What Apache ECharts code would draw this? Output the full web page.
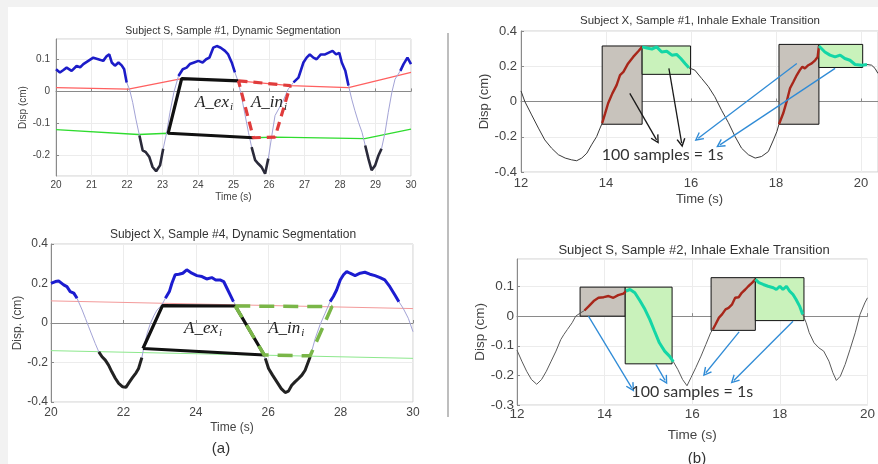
<!DOCTYPE html>
<html>
<head>
<meta charset="utf-8">
<script src="https://cdn.jsdelivr.net/npm/echarts@6/dist/echarts.min.js"></script>
<style>
  html, body { margin: 0; padding: 0; background: #fff; }
  #chart { width: 878px; height: 464px; }
</style>
</head>
<body>
<div id="chart"></div>
<script>
// 左上：Subject S, Sample #1
var p1Time = [20.00, 20.11, 20.20, 20.30, 20.44, 20.58, 20.68, 20.77, 20.91, 21.05, 21.19, 21.33, 21.43, 21.50, 21.57, 21.66, 21.76, 21.85, 21.92, 21.99,
  22.07, 22.16, 22.25, 22.35, 22.44, 22.53, 22.63, 22.72, 22.82, 22.93, 23.02, 23.12, 23.21, 23.32, 23.45, 23.57, 23.68, 23.77, 23.89, 24.01,
  24.13, 24.23, 24.32, 24.43, 24.53, 24.64, 24.76, 24.85, 24.95, 25.04, 25.14, 25.23, 25.32, 25.42, 25.51, 25.61, 25.70, 25.79, 25.89, 25.98,
  26.08, 26.17, 26.40, 26.54, 26.69, 26.83, 26.97, 27.06, 27.15, 27.25, 27.34, 27.46, 27.58, 27.67, 27.79, 27.89, 27.98, 28.05, 28.15, 28.24,
  28.33, 28.42, 28.52, 28.62, 28.71, 28.80, 28.89, 28.99, 29.08, 29.17, 29.27, 29.36, 29.46, 29.55, 29.70, 29.79, 29.90, 30.00];
var p1Disp = [0.069, 0.059, 0.066, 0.074, 0.064, 0.079, 0.075, 0.085, 0.095, 0.105, 0.100, 0.095, 0.110, 0.115, 0.090, 0.080, 0.090, 0.081, 0.069, 0.028,
  0.007, -0.034, -0.086, -0.137, -0.183, -0.189, -0.204, -0.235, -0.248, -0.230, -0.178, -0.127, -0.065, -0.003, 0.048, 0.069, 0.074, 0.085, 0.090, 0.095,
  0.090, 0.100, 0.105, 0.136, 0.141, 0.136, 0.126, 0.115, 0.090, 0.059, 0.028, -0.019, -0.070, -0.127, -0.173, -0.214, -0.225, -0.235, -0.256, -0.209,
  -0.137, -0.075, -0.029, 0.007, 0.028, 0.043, 0.090, 0.105, 0.115, 0.105, 0.100, 0.115, 0.115, 0.120, 0.126, 0.115, 0.120, 0.090, 0.064, 0.018,
  -0.024, -0.060, -0.096, -0.127, -0.168, -0.209, -0.245, -0.230, -0.200, -0.178, -0.127, -0.065, -0.003, 0.038, 0.064, 0.085, 0.105, 0.085];
var p1RedT = [20, 22.04, 23.54, 25.14, 26.6, 28.24, 30];
var p1RedV = [0.012, 0.007, 0.040, 0.033, 0.018, 0.012, 0.059];
var p1GreenT = [20, 22.32, 23.16, 25.56, 26.17, 28.7, 30];
var p1GreenV = [-0.119, -0.134, -0.130, -0.144, -0.142, -0.147, -0.117];
var p1Ex = [[25.56, -0.144], [23.16, -0.130], [23.54, 0.040], [25.14, 0.033]];
var p1In = [[25.14, 0.033], [26.60, 0.018], [26.17, -0.142], [25.56, -0.144], [25.14, 0.033]];
var p1Labels = [[24.45, -0.034], [26.0, -0.034]];

// 左下：Subject X, Sample #4
var p2Time = [20.00, 20.12, 20.21, 20.35, 20.44, 20.53, 20.63, 20.72, 20.76, 20.86, 20.95, 21.04, 21.13, 21.22, 21.32, 21.41, 21.50, 21.59, 21.68, 21.78,
  21.87, 21.98, 22.07, 22.16, 22.25, 22.35, 22.42, 22.51, 22.58, 22.66, 22.75, 22.85, 22.93, 23.06, 23.16, 23.27, 23.34, 23.43, 23.53, 23.64,
  23.75, 23.89, 24.03, 24.17, 24.30, 24.44, 24.55, 24.67, 24.77, 24.86, 24.95, 25.04, 25.13, 25.27, 25.41, 25.55, 25.69, 25.82, 25.92, 26.01,
  26.12, 26.24, 26.36, 26.47, 26.56, 26.65, 26.74, 26.84, 26.93, 27.02, 27.16, 27.30, 27.43, 27.57, 27.71, 27.80, 27.89, 27.99, 28.08, 28.17,
  28.26, 28.40, 28.54, 28.67, 28.81, 28.95, 29.09, 29.22, 29.36, 29.50, 29.61, 29.73, 29.87, 30.00];
var p2Disp = [0.201, 0.210, 0.213, 0.193, 0.184, 0.159, 0.151, 0.125, 0.108, 0.066, 0.024, -0.019, -0.061, -0.103, -0.146, -0.171, -0.188, -0.213, -0.247, -0.281,
  -0.306, -0.323, -0.326, -0.301, -0.277, -0.252, -0.230, -0.175, -0.110, -0.050, 0.000, 0.040, 0.066, 0.091, 0.125, 0.159, 0.201, 0.244, 0.247, 0.252,
  0.269, 0.252, 0.240, 0.235, 0.223, 0.230, 0.218, 0.218, 0.210, 0.176, 0.142, 0.108, 0.083, 0.041, -0.010, -0.061, -0.103, -0.146, -0.179, -0.230,
  -0.264, -0.298, -0.332, -0.352, -0.345, -0.315, -0.298, -0.281, -0.264, -0.239, -0.171, -0.078, -0.010, 0.049, 0.108, 0.134, 0.167, 0.218, 0.244, 0.261,
  0.252, 0.240, 0.252, 0.257, 0.247, 0.240, 0.230, 0.218, 0.184, 0.142, 0.108, 0.074, 0.024, -0.044];
var p2RedT = [20, 30];
var p2RedV = [0.112, 0.073];
var p2GreenT = [20, 30];
var p2GreenV = [-0.140, -0.179];
var p2Ex = [[22.54, -0.129], [23.08, 0.088], [25.09, 0.086], [25.89, -0.162], [22.54, -0.129]];
var p2In = [[25.09, 0.086], [27.76, 0.083], [27.16, -0.166], [25.89, -0.162], [25.09, 0.086]];
var p2Labels = [[24.2, -0.027], [26.5, -0.027]];

// 右上：Subject X, Sample #1
var p3Time = [12.00, 12.09, 12.25, 12.41, 12.56, 12.72, 12.88, 13.04, 13.19, 13.31, 13.43, 13.55, 13.66, 13.78, 13.86, 13.91, 13.98, 14.05, 14.15, 14.25,
  14.33, 14.41, 14.52, 14.64, 14.76, 14.85, 14.96, 15.08, 15.19, 15.31, 15.43, 15.55, 15.66, 15.76, 15.86, 15.95, 16.09, 16.25, 16.41, 16.56,
  16.72, 16.88, 17.04, 17.19, 17.35, 17.51, 17.66, 17.82, 17.94, 18.02, 18.07, 18.17, 18.25, 18.33, 18.41, 18.49, 18.56, 18.62, 18.68, 18.76,
  18.84, 18.92, 18.98, 19.01, 19.15, 19.27, 19.39, 19.51, 19.62, 19.74, 19.86, 20.02, 20.14, 20.25, 20.33, 20.40];
var p3Disp = [0.060, 0.000, -0.076, -0.151, -0.218, -0.265, -0.302, -0.321, -0.331, -0.336, -0.321, -0.293, -0.246, -0.199, -0.151, -0.123, -0.067, -0.010, 0.046, 0.093,
  0.150, 0.168, 0.216, 0.253, 0.285, 0.310, 0.304, 0.297, 0.310, 0.281, 0.285, 0.263, 0.267, 0.244, 0.216, 0.191, 0.178, 0.131, 0.084, 0.027,
  -0.050, -0.120, -0.200, -0.265, -0.302, -0.321, -0.312, -0.284, -0.218, -0.171, -0.129, -0.067, -0.001, 0.075, 0.112, 0.150, 0.178, 0.197, 0.188, 0.206,
  0.216, 0.234, 0.253, 0.315, 0.281, 0.263, 0.253, 0.263, 0.244, 0.234, 0.210, 0.206, 0.210, 0.206, 0.188, 0.159];
var p3Inhale = [[13.91, 14.85], [18.07, 19.01]];
var p3Exhale = [[14.85, 15.95], [19.01, 20.14]];
var p3GrayBoxes = [[[13.91, -0.129], [14.85, 0.315]], [[18.07, -0.129], [19.01, 0.324]]];
var p3GreenBoxes = [[[14.85, 0.154], [15.99, 0.315]], [[19.01, 0.193], [20.04, 0.324]]];
var p3BlackArrows = [[[14.56, 0.046], [15.19, -0.218]], [[15.48, 0.188], [15.78, -0.236]]];
var p3BlueArrows = [[[18.49, 0.216], [16.17, -0.208]], [[19.39, 0.188], [16.68, -0.246]]];
var p3Note = [15.33, -0.302];

// 右下：Subject S, Sample #2
var p4Time = [12.00, 12.11, 12.22, 12.33, 12.45, 12.56, 12.67, 12.78, 12.89, 13.00, 13.07, 13.15, 13.26, 13.34, 13.45, 13.54, 13.64, 13.75, 13.86, 13.98,
  14.09, 14.20, 14.31, 14.43, 14.49, 14.58, 14.69, 14.81, 14.92, 15.03, 15.14, 15.25, 15.37, 15.48, 15.57, 15.67, 15.78, 15.88, 15.97, 16.08,
  16.20, 16.31, 16.42, 16.47, 16.53, 16.61, 16.68, 16.76, 16.83, 16.91, 16.98, 17.06, 17.13, 17.21, 17.28, 17.37, 17.44, 17.52, 17.62, 17.73,
  17.85, 17.92, 18.00, 18.07, 18.15, 18.22, 18.30, 18.37, 18.45, 18.52, 18.60, 18.67, 18.78, 18.89, 19.00, 19.12, 19.21, 19.29, 19.38, 19.49,
  19.60, 19.72, 19.83, 19.94, 20.00];
var p4Disp = [-0.115, -0.152, -0.186, -0.214, -0.230, -0.214, -0.186, -0.152, -0.118, -0.079, -0.062, -0.045, -0.022, 0.000, 0.011, 0.019, 0.034, 0.051, 0.062, 0.064,
  0.068, 0.062, 0.071, 0.076, 0.085, 0.090, 0.079, 0.051, 0.023, -0.011, -0.051, -0.090, -0.118, -0.135, -0.154, -0.180, -0.214, -0.235, -0.208, -0.174,
  -0.135, -0.096, -0.056, -0.045, -0.028, -0.005, 0.006, 0.023, 0.028, 0.040, 0.062, 0.064, 0.079, 0.090, 0.101, 0.113, 0.124, 0.113, 0.107, 0.101,
  0.096, 0.090, 0.101, 0.090, 0.101, 0.085, 0.073, 0.056, 0.034, 0.006, -0.022, -0.056, -0.090, -0.107, -0.118, -0.152, -0.191, -0.217, -0.203, -0.163,
  -0.113, -0.056, 0.006, 0.045, 0.062];
var p4Inhale = [[13.54, 14.49], [16.47, 17.44]];
var p4Exhale = [[14.49, 15.57], [17.44, 18.52]];
var p4GrayBoxes = [[[13.44, 0.0], [14.47, 0.098]], [[16.43, -0.048], [17.44, 0.130]]];
var p4GreenBoxes = [[[14.47, -0.161], [15.54, 0.098]], [[17.44, -0.015], [18.55, 0.130]]];
var p4BlueArrows = [[[13.63, 0.0], [14.62, -0.242]], [[15.17, -0.163], [15.38, -0.217]], [[17.07, -0.053], [16.31, -0.191]], [[18.30, -0.017], [16.95, -0.217]]];
var p4Note = [16.0, -0.254];

(function () {
  var myChart = echarts.init(document.getElementById("chart"));
  var FONT = "Liberation Sans";
  var ARROW = "path://M5,0 L10,9 L8.6,9.6 L5,3.2 L1.4,9.6 L0,9 Z";

  function interp(xs, ys, x) {
    for (var i = 0; i < xs.length - 1; i++) {
      if (x <= xs[i + 1]) {
        var k = (x - xs[i]) / (xs[i + 1] - xs[i]);
        return ys[i] + k * (ys[i + 1] - ys[i]);
      }
    }
    return ys[ys.length - 1];
  }
  function pairs(ts, vs) {
    return ts.map(function (t, i) { return [t, vs[i]]; });
  }
  // 只保留满足条件的点，其余断开
  function pick(ts, vs, test) {
    return ts.map(function (t, i) { return test(t, vs[i]) ? [t, vs[i]] : [t, "-"]; });
  }
  function inRanges(ranges) {
    return function (t) {
      return ranges.some(function (r) { return t >= r[0] - 1e-6 && t <= r[1] + 1e-6; });
    };
  }

  function line(g, data, color, width, extra) {
    var s = {
      type: "line", xAxisIndex: g, yAxisIndex: g, data: data,
      showSymbol: false, symbol: "none", silent: true, animation: false,
      lineStyle: { color: color, width: width }, z: 3,
    };
    for (var k in extra) s[k] = extra[k];
    return s;
  }

  function areaLabel(pos, name) {
    return {
      coord: pos, value: name,
      label: {
        show: true, position: "inside",
        formatter: "{a|A_" + name + "}{b|i}",
        rich: {
          a: { fontFamily: "Liberation Serif", fontStyle: "italic", fontSize: 17, color: "#222" },
          b: { fontFamily: "Liberation Serif", fontStyle: "italic", fontSize: 11, color: "#222", padding: [9, 0, 0, 1] },
        },
      },
    };
  }
  function marks(points) {
    return { symbol: "circle", symbolSize: 1, itemStyle: { color: "rgba(0,0,0,0)" }, silent: true, animation: false, data: points };
  }
  function arrows(list, color) {
    return {
      silent: true, animation: false, symbol: ["none", ARROW], symbolSize: 9,
      label: { show: false },
      lineStyle: { color: color, width: 1.3, type: "solid" },
      itemStyle: { color: color },
      data: list.map(function (a) { return [{ coord: a[0] }, { coord: a[1] }]; }),
    };
  }
  function boxes(list, fill) {
    return list.map(function (b) {
      return [{ coord: b[0], itemStyle: { color: fill, borderColor: "#111", borderWidth: 1 } }, { coord: b[1] }];
    });
  }
  function note(pos) {
    return {
      coord: pos, value: 0,
      label: { show: true, position: "inside", formatter: "100 samples = 1s", fontFamily: "Lato", fontSize: 16, color: "#333" },
    };
  }

  function xAxis(g, min, max, interval, fs, gap, margin, hideMax) {
    return {
      type: "value", gridIndex: g, min: min, max: max, interval: interval,
      name: "Time (s)", nameLocation: "middle", nameGap: gap,
      nameTextStyle: { fontFamily: FONT, fontSize: fs, color: "#444" },
      axisLine: { show: true, lineStyle: { color: "#8a8a8a" } },
      axisTick: { show: true, inside: true, length: 3, lineStyle: { color: "#8a8a8a" } },
      axisLabel: { fontFamily: FONT, fontSize: fs, color: "#444", margin: margin, showMaxLabel: !hideMax },
      splitLine: { show: true, lineStyle: { color: "#ececec" } },
    };
  }
  function yAxis(g, name, min, max, interval, fs, gap, margin, showMin, showMax) {
    var a = {
      type: "value", gridIndex: g, min: min, max: max,
      name: name, nameLocation: "middle", nameGap: gap,
      nameTextStyle: { fontFamily: FONT, fontSize: fs, color: "#444" },
      axisLine: { show: true, lineStyle: { color: "#8a8a8a" } },
      axisTick: { show: true, inside: true, length: 3, lineStyle: { color: "#8a8a8a" } },
      axisLabel: { fontFamily: FONT, fontSize: fs, color: "#444", margin: margin, showMinLabel: showMin, showMaxLabel: showMax },
      splitLine: { show: true, lineStyle: { color: "#ececec" } },
    };
    if (interval != null) a.interval = interval;
    else a.splitNumber = 4;
    return a;
  }

  var p1Red = function (t) { return interp(p1RedT, p1RedV, t); };
  var p1Green = function (t) { return interp(p1GreenT, p1GreenV, t); };
  var p2Red = function (t) { return interp(p2RedT, p2RedV, t); };
  var p2Green = function (t) { return interp(p2GreenT, p2GreenV, t); };

  var series = [
    // 左上
    line(0, pairs(p1RedT, p1RedV), "#ff6060", 1.3),
    line(0, pairs(p1GreenT, p1GreenV), "#2fdc2f", 1.3),
    line(0, pairs(p1Time, p1Disp), "#a3a3d6", 1),
    line(0, pick(p1Time, p1Disp, function (t, v) { return v >= p1Red(t); }), "#1c1cc8", 2.6),
    line(0, pick(p1Time, p1Disp, function (t, v) { return v <= p1Green(t); }), "#2a2a3a", 2.6),
    line(0, p1Ex, "#111", 3.2),
    line(0, p1In, "#e03c3c", 3.2, {
      lineStyle: { color: "#e03c3c", width: 3.2, type: [9, 6] },
      markPoint: marks([areaLabel(p1Labels[0], "ex"), areaLabel(p1Labels[1], "in")]),
    }),
    // 左下
    line(1, pairs(p2RedT, p2RedV), "#f39a9a", 1),
    line(1, pairs(p2GreenT, p2GreenV), "#8de88d", 1),
    line(1, pairs(p2Time, p2Disp), "#a3a3d6", 1),
    line(1, pick(p2Time, p2Disp, function (t, v) { return v >= p2Red(t); }), "#1c1cd0", 3),
    line(1, pick(p2Time, p2Disp, function (t, v) { return v <= p2Green(t); }), "#222", 3),
    line(1, p2Ex, "#111", 3.2),
    line(1, p2In, "#7ab648", 3.5, {
      lineStyle: { color: "#7ab648", width: 3.5, type: [15, 9] },
      markPoint: marks([areaLabel(p2Labels[0], "ex"), areaLabel(p2Labels[1], "in")]),
    }),
    // 右上
    line(2, [], "#000", 1, { z: 1, markArea: { silent: true, animation: false, label: { show: false }, data: boxes(p3GrayBoxes, "#c8c3bc").concat(boxes(p3GreenBoxes, "#c9f2bb")) } }),
    line(2, pairs(p3Time, p3Disp), "#3a3a3a", 1),
    line(2, pick(p3Time, p3Disp, inRanges(p3Inhale)), "#a8261a", 2.4),
    line(2, pick(p3Time, p3Disp, inRanges(p3Exhale)), "#14d6a6", 3),
    line(2, [], "#000", 1, { z: 5, markLine: arrows(p3BlackArrows, "#1a1a1a") }),
    line(2, [], "#000", 1, { z: 5, markLine: arrows(p3BlueArrows, "#2f8bd6"), markPoint: marks([note(p3Note)]) }),
    // 右下
    line(3, [], "#000", 1, { z: 1, markArea: { silent: true, animation: false, label: { show: false }, data: boxes(p4GrayBoxes, "#c8c3bc").concat(boxes(p4GreenBoxes, "#c9f2bb")) } }),
    line(3, pairs(p4Time, p4Disp), "#5a5a5a", 1),
    line(3, pick(p4Time, p4Disp, inRanges(p4Inhale)), "#a8261a", 2.4),
    line(3, pick(p4Time, p4Disp, inRanges(p4Exhale)), "#14d6a6", 3),
    line(3, [], "#000", 1, { z: 5, markLine: arrows(p4BlueArrows, "#2f8bd6"), markPoint: marks([note(p4Note)]) }),
  ];

  function title(text, x, y, fs) {
    return { type: "text", x: x, y: y, silent: true, style: { text: text, fontFamily: FONT, fontSize: fs, fill: "#333", textAlign: "center", textVerticalAlign: "middle" } };
  }

  var option = {
    backgroundColor: "#fff",
    animation: false,
    grid: [
      { left: 56, right: 467, top: 39, height: 137, show: true, borderColor: "#cfcfcf", borderWidth: 1 },
      { left: 51, right: 465, top: 244, height: 158, show: true, borderColor: "#cfcfcf", borderWidth: 1 },
      { left: 521, right: 0, top: 31, height: 141, show: true, borderColor: "#cfcfcf", borderWidth: 1 },
      { left: 517, right: 5, top: 259, height: 146, show: true, borderColor: "#cfcfcf", borderWidth: 1 },
    ],
    xAxis: [
      xAxis(0, 20, 30, 1, 10, 16, 4, false),
      xAxis(1, 20, 30, 2, 12, 20, 5, false),
      xAxis(2, 12, 20.4, 2, 13, 21, 5, true),
      xAxis(3, 12, 20, 2, 13.5, 23, 2, false),
    ],
    yAxis: [
      yAxis(0, "Disp (cm)", -0.263, 0.163, null, 10, 28, 6, false, false),
      yAxis(1, "Disp. (cm)", -0.4, 0.4, 0.2, 12, 26, 3, true, true),
      yAxis(2, "Disp (cm)", -0.4, 0.4, 0.2, 13, 28, 4, true, true),
      yAxis(3, "Disp (cm)", -0.3, 0.193, 0.1, 13.5, 30, 3, true, false),
    ],
    graphic: [
      { type: "rect", shape: { x: 0, y: 0, width: 878, height: 7 }, style: { fill: "#f2f2f2" }, silent: true },
      { type: "rect", shape: { x: 0, y: 0, width: 8, height: 464 }, style: { fill: "#f2f2f2" }, silent: true },
      { type: "line", shape: { x1: 448, y1: 33, x2: 448, y2: 417 }, style: { stroke: "#a8a8a8", lineWidth: 1.5 }, silent: true },
      title("Subject S, Sample #1, Dynamic Segmentation", 233, 31, 10.5),
      title("Subject X, Sample #4, Dynamic Segmentation", 233, 235, 12),
      title("Subject X, Sample #1, Inhale Exhale Transition", 700, 21, 11.5),
      title("Subject S, Sample #2, Inhale Exhale Transition", 694, 250, 13),
      title("(a)", 221, 449, 15),
      title("(b)", 697, 459, 15),
    ],
    series: series,
  };
  myChart.setOption(option);
  window.addEventListener("resize", function () {
    myChart.resize();
  });
})();
</script>
</body>
</html>
